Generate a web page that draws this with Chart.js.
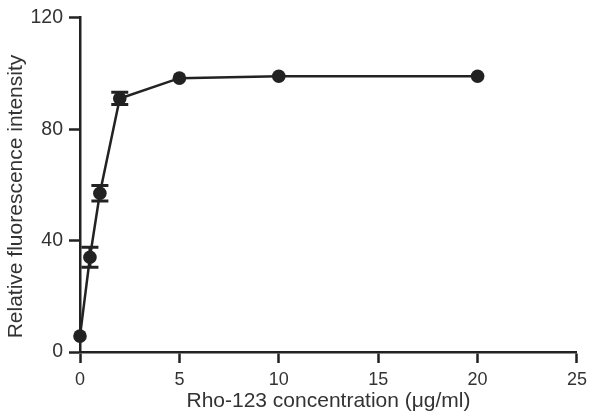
<!DOCTYPE html>
<html>
<head>
<meta charset="utf-8">
<script src="https://cdn.jsdelivr.net/npm/chart.js@4"></script>
<style>
  html, body { margin: 0; padding: 0; background: #fff; }
  #wrap { width: 593px; height: 419px; }
</style>
</head>
<body>
<div id="wrap"><canvas id="rhoChart" width="593" height="419"></canvas></div>
<script>
// data
const concentrations = [0, 0.5, 1, 2, 5, 10, 20]
const intensity = [5.7, 34, 57, 91, 98.3, 99, 99]
const errors = [0, 3.6, 2.8, 2.2, 0, 0, 0]
const xTicks = [0, 5, 10, 15, 20, 25]
const yTicks = [0, 40, 80, 120]

const INK = "#222"
const TEXT = "#333"
const FONT = "'Liberation Sans', Arial, sans-serif"

let points = concentrations.map((c, i) => ({x: c, y: intensity[i]}))

// error bars with caps, drawn from the scales
const errorBars = {
    id: "errorBars",
    afterDatasetsDraw(chart) {
        const ctx = chart.ctx
        const xs = chart.scales.x
        const ys = chart.scales.y
        ctx.save()
        ctx.strokeStyle = INK
        ctx.lineWidth = 3
        for (let i = 0; i < concentrations.length; i++) {
            if (!errors[i]) continue
            let px = xs.getPixelForValue(concentrations[i])
            let top = ys.getPixelForValue(intensity[i] + errors[i])
            let bot = ys.getPixelForValue(intensity[i] - errors[i])
            ctx.beginPath()
            ctx.moveTo(px, top); ctx.lineTo(px, bot)
            ctx.moveTo(px - 8.5, top); ctx.lineTo(px + 8.5, top)
            ctx.moveTo(px - 8.5, bot); ctx.lineTo(px + 8.5, bot)
            ctx.stroke()
        }
        ctx.restore()
    }
}

let ctx = document.getElementById("rhoChart").getContext("2d")
const rhoChart = new Chart(ctx, {
    type: "scatter",
    data: {
        datasets: [{
            data: points,
            showLine: true,
            borderColor: INK,
            borderWidth: 2.5,
            backgroundColor: INK,
            pointRadius: 6.8,
            pointBorderWidth: 0,
            pointBackgroundColor: INK,
            clip: false
        }]
    },
    options: {
        responsive: false,
        animation: false,
        layout: { padding: { left: 0, right: 14, top: 17, bottom: 0 } },
        plugins: { legend: { display: false }, tooltip: { enabled: false } },
        scales: {
            x: {
                type: "linear",
                min: 0, max: 25,
                afterBuildTicks: s => { s.ticks = xTicks.map(v => ({value: v})) },
                afterFit: s => { s.height = 67 },
                grid: { drawOnChartArea: false, tickLength: 11, tickWidth: 2.5, tickColor: INK },
                border: { color: INK, width: 2.5 },
                ticks: { color: TEXT, font: { family: FONT, size: 18 }, padding: 6 },
                title: {
                    display: true,
                    text: "Rho-123 concentration (\u03bcg/ml)",
                    color: TEXT,
                    font: { family: FONT, size: 21 },
                    padding: { top: 5, bottom: 5 }
                }
            },
            y: {
                type: "linear",
                min: 0, max: 120,
                afterBuildTicks: s => { s.ticks = yTicks.map(v => ({value: v})) },
                afterFit: s => { s.width = 80 },
                grid: { drawOnChartArea: false, tickLength: 11, tickWidth: 2.5, tickColor: INK },
                border: { color: INK, width: 2.5 },
                ticks: { color: TEXT, font: { family: FONT, size: 19.5 }, padding: 6 },
                title: {
                    display: true,
                    // trailing spaces nudge the rotated title down like the original
                    text: "Relative fluorescence intensity    ",
                    color: TEXT,
                    font: { family: FONT, size: 21 },
                    padding: { top: 4, bottom: 0 }
                }
            }
        }
    },
    plugins: [errorBars]
})
</script>
</body>
</html>
